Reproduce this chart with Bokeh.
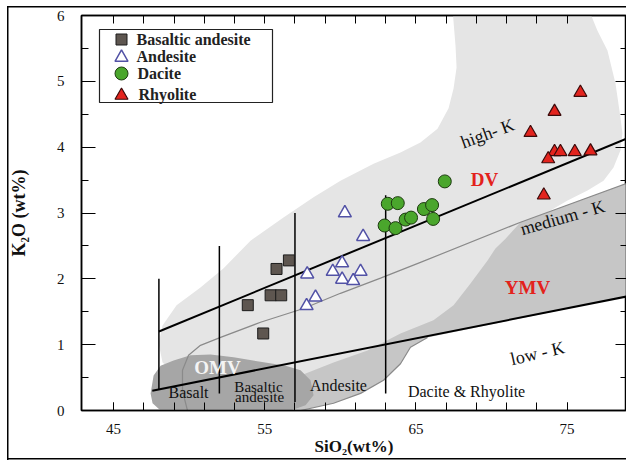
from bokeh.plotting import figure
from bokeh.models import Range1d, LinearAxis, FixedTicker
from bokeh.core.properties import value
from bokeh.embed import file_html
from bokeh.resources import INLINE

FONT = "Liberation Serif"

# ---------------- sample data (SiO2 wt%, K2O wt%) ----------------
ba_sio2 = [56.60, 55.78, 55.39, 56.09, 53.88, 54.90]
ba_k2o = [2.28, 2.15, 1.75, 1.75, 1.60, 1.17]

an_sio2 = [57.81, 60.12, 59.50, 61.34, 60.12, 60.85, 58.36, 57.77, 60.30, 61.51]
an_k2o = [2.07, 2.24, 2.11, 2.11, 1.99, 1.97, 1.72, 1.59, 3.00, 2.64]

da_sio2 = [66.91, 63.14, 63.80, 62.93, 63.65, 64.32, 64.68, 65.53, 66.07, 66.14]
da_k2o = [3.48, 3.14, 3.15, 2.81, 2.77, 2.90, 2.93, 3.06, 3.12, 2.91]

rh_sio2 = [75.88, 74.17, 72.58, 74.17, 74.56, 75.51, 76.55, 73.75, 73.46]
rh_k2o = [4.83, 4.54, 4.22, 3.93, 3.93, 3.93, 3.94, 3.82, 3.27]

# ---------------- series boundaries ----------------
hk_x = [48, 80]
hk_y = [1.20, 4.23]
lk_x = [47.56, 80]
lk_y = [0.30, 1.78]
div_x = [48, 52, 57, 63]
div_top = [2.0, 2.5, 3.0, 3.27]
div_bottom = [0.31, 0.26, 0.13, 0.26]

# ---------------- shaded fields ----------------
dv_x = [48.24, 47.98, 48.24, 49.17, 50.75, 52.28, 54.06, 56.24, 58.23, 60.01,
        62.20, 63.98, 65.30, 66.43, 67.16, 67.49, 67.69, 67.62, 67.42,
        76.42, 77.01, 77.67, 78.20, 78.53, 78.66, 78.53, 78.07, 77.41, 76.35,
        75.03, 73.70, 74.56, 70.60, 63.98, 57.37, 50.75]
dv_y = [0.73, 1.02, 1.29, 1.60, 1.87, 2.16, 2.58, 2.93, 3.24, 3.49,
        3.75, 3.92, 4.07, 4.28, 4.59, 4.89, 5.21, 5.54, 6.10,
        6.10, 5.77, 5.47, 4.97, 4.45, 4.21, 3.95, 3.69, 3.49, 3.34,
        3.19, 3.01, 2.70, 1.97, 0.99, 0.23, 0.23]

ymv_x = [80, 71.92, 70.93, 70.26, 69.74, 68.61, 67.49, 66.16, 63.98, 61.80,
         59.55, 57.37, 55.38, 54.72, 57.37, 59.55, 61.34, 62.86, 63.98, 64.64,
         65.77, 80]
ymv_y = [3.54, 2.86, 2.61, 2.46, 2.28, 1.93, 1.60, 1.37, 1.17, 0.91,
         0.73, 0.53, 0.43, 0.0, 0.0, 0.11, 0.26, 0.46, 0.71, 0.96,
         1.11, 1.78]

omv_x = [47.45, 47.65, 48.11, 48.97, 50.09, 51.42, 52.94, 54.72, 56.38, 57.37,
         58.03, 58.23, 57.70, 56.71, 48.11, 47.58]
omv_y = [0.26, 0.53, 0.68, 0.76, 0.84, 0.85, 0.81, 0.74, 0.68, 0.61,
         0.46, 0.23, 0.08, 0.0, 0.0, 0.11]

outline1_x = [49.89, 49.56, 49.56, 49.96, 50.75, 52.08, 54.72, 57.57, 60.01,
              62.66, 65.30, 71.92, 80]
outline1_y = [0.0, 0.30, 0.61, 0.84, 0.99, 1.11, 1.34, 1.55, 1.78,
              2.01, 2.25, 2.86, 3.54]
outline2_x = [57.37, 59.55, 61.34, 62.86, 63.98, 64.64, 65.77]
outline2_y = [0.0, 0.11, 0.26, 0.46, 0.71, 0.96, 1.11]

# ---------------- labels ----------------
rock_names = ["Basalt", "Andesite", "Dacite & Rhyolite"]
rock_x = [49.96, 59.88, 68.35]
rock_y = [0.27, 0.38, 0.29]
ba_names = ["Basaltic", "andesite"]
ba_lx = [54.59, 54.66]
ba_ly = [0.36, 0.20]
series_names = ["high- K", "medium - K", "low - K"]
series_x = [69.74, 74.70, 73.04]
series_y = [4.21, 2.93, 0.87]
series_angle = [20, 16, 13]
red_names = ["DV", "YMV"]
red_x = [69.54, 72.38]
red_y = [3.51, 1.87]
omv_name = ["OMV"]
omv_lx = [51.88]
omv_ly = [0.65]

x_major = [45, 55, 65, 75]
x_minor = list(range(45, 76, 2))
y_major = [0, 1, 2, 3, 4, 5, 6]
y_minor = [i * 0.5 for i in range(13)]

legend_names = ["Basaltic andesite", "Andesite", "Dacite", "Rhyolite"]

# ---------------- figure ----------------
p = figure(width=626, height=460, x_range=Range1d(42.88, 78.93), y_range=Range1d(0, 6),
           output_backend="svg", toolbar_location=None,
           min_border_left=81, min_border_right=0, min_border_top=15, min_border_bottom=50)
p.background_fill_color = "white"
p.border_fill_color = None
p.outline_line_color = "black"
p.outline_line_width = 1.5
p.xgrid.visible = False
p.ygrid.visible = False
# thin picture border (left, top, bottom) painted behind the transparent canvas border
p.styles = {
    "background-color": "white",
    "background-image": "linear-gradient(#000,#000), linear-gradient(#000,#000), linear-gradient(#000,#000)",
    "background-size": "1.5px 454px, 700px 1.5px, 700px 1.5px",
    "background-position": "7px 6px, 7px 6px, 7px 458px",
    "background-repeat": "no-repeat",
}

# fields
p.patch(dv_x, dv_y, fill_color="#e5e5e5", line_color=None)
p.patch(ymv_x, ymv_y, fill_color="#c6c6c6", line_color=None)
p.patch(omv_x, omv_y, fill_color="#a6a6a6", line_color=None)
p.line(outline1_x, outline1_y, line_color="#8a8a8a", line_width=1.2)
p.line(outline2_x, outline2_y, line_color="#8a8a8a", line_width=1.2)

# boundaries
p.line(hk_x, hk_y, line_color="black", line_width=2)
p.line(lk_x, lk_y, line_color="black", line_width=2)
p.segment(x0=div_x, y0=div_bottom, x1=div_x, y1=div_top, line_color="black", line_width=1.5)

# texts
p.text(rock_x, rock_y, text=rock_names, text_font=value(FONT), text_font_size="16px",
       text_align="center", text_baseline="middle", text_color="#111111")
p.text(ba_lx, ba_ly, text=ba_names, text_font=value(FONT), text_font_size="15px",
       text_align="center", text_baseline="middle", text_color="#111111")
p.text(series_x, series_y, text=series_names, angle=series_angle, angle_units="deg",
       text_font=value(FONT), text_font_size="18px",
       text_align="center", text_baseline="middle", text_color="#111111")
p.text(red_x, red_y, text=red_names, text_font=value(FONT), text_font_size="19px",
       text_font_style="bold", text_align="center", text_baseline="middle", text_color="#e3221c")
p.text(omv_lx, omv_ly, text=omv_name, text_font=value(FONT), text_font_size="19px",
       text_font_style="bold", text_align="center", text_baseline="middle", text_color="#f4f4f4")

# samples
ba_style = dict(marker="square", size=11, fill_color="#5e5650", line_color="#1c1c1c", line_width=1)
an_style = dict(marker="triangle", size=13, fill_color="white", line_color="#5252a6", line_width=1.5)
da_style = dict(marker="circle", size=13, fill_color="#4aa62c", line_color="#1d3b10", line_width=1)
rh_style = dict(marker="triangle", size=13, fill_color="#e3241e", line_color="#3b0b0b", line_width=1.2)
p.scatter(ba_sio2, ba_k2o, **ba_style)
p.scatter(an_sio2, an_k2o, **an_style)
p.scatter(da_sio2, da_k2o, **da_style)
p.scatter(rh_sio2, rh_k2o, **rh_style)

# legend box (drawn in frame-pixel ranges)
p.extra_x_ranges = {"lgx": Range1d(0, 545)}
p.extra_y_ranges = {"lgy": Range1d(395, 0)}
p.quad(left=[18], right=[191], top=[14], bottom=[87], x_range_name="lgx", y_range_name="lgy",
       fill_color="white", line_color="#222222", line_width=1.2)
leg_marker_y = [24, 42, 58, 80]
for st, yy in zip([ba_style, an_style, da_style, rh_style], leg_marker_y):
    p.scatter([40], [yy], x_range_name="lgx", y_range_name="lgy", **st)
p.text([55, 55, 56, 57], [24, 41, 58, 79], text=legend_names, x_range_name="lgx", y_range_name="lgy",
       text_font=value(FONT), text_font_size="16px", text_font_style="bold",
       text_align="left", text_baseline="middle", text_color="#222222")

# axes
xb = p.xaxis[0]
xb.ticker = FixedTicker(ticks=x_major, minor_ticks=x_minor)
xb.major_tick_in = 8
xb.major_tick_out = 0
xb.minor_tick_in = 8
xb.minor_tick_out = 0
xb.axis_line_width = 1.5
xb.major_label_text_font = FONT
xb.major_label_text_font_size = "15px"
xb.major_label_text_color = "#111111"
xb.major_label_standoff = 13
xb.axis_label = "SiO₂(wt%)"
xb.axis_label_text_font = FONT
xb.axis_label_text_font_size = "17px"
xb.axis_label_text_font_style = "bold"
xb.axis_label_text_color = "#111111"
xb.axis_label_standoff = 0

yl = p.yaxis[0]
yl.ticker = FixedTicker(ticks=y_major, minor_ticks=y_minor)
yl.major_tick_in = 14
yl.major_tick_out = 0
yl.minor_tick_in = 7
yl.minor_tick_out = 0
yl.axis_line_width = 1.5
yl.major_label_text_font = FONT
yl.major_label_text_font_size = "15px"
yl.major_label_text_color = "#111111"
yl.major_label_standoff = 17
yl.axis_label = "K₂O (wt%)"
yl.axis_label_text_font = FONT
yl.axis_label_text_font_size = "18px"
yl.axis_label_text_font_style = "bold"
yl.axis_label_text_color = "#111111"
yl.axis_label_standoff = 25

xt = LinearAxis(ticker=FixedTicker(ticks=x_minor), major_tick_in=8, major_tick_out=0,
                minor_tick_in=0, minor_tick_out=0, major_label_text_font_size="0px",
                major_label_text_color=None, major_label_standoff=0, axis_line_width=1.5)
p.add_layout(xt, "above")
yr = LinearAxis(ticker=FixedTicker(ticks=y_major, minor_ticks=y_minor), major_tick_in=11,
                major_tick_out=0, minor_tick_in=6, minor_tick_out=0,
                major_label_text_font_size="0px", major_label_text_color=None,
                major_label_standoff=0, axis_line_width=1.5)
p.add_layout(yr, "right")

open("out.html", "w").write(file_html(p, INLINE))
